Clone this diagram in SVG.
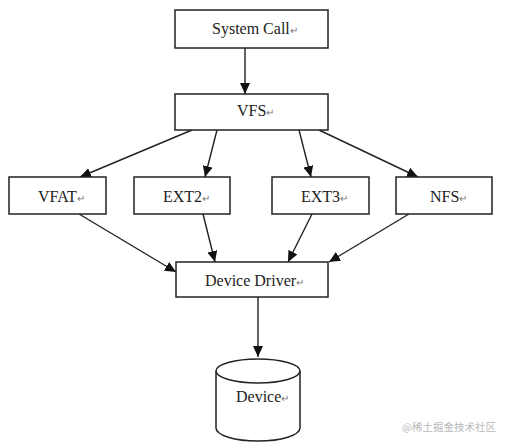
<svg xmlns="http://www.w3.org/2000/svg" width="510" height="445" viewBox="0 0 510 445">
<style>
.box{fill:#fff;stroke:#222;stroke-width:1.5}
.t{font-family:"Liberation Serif","Times New Roman",serif;font-size:16px;fill:#222}
.r{font-size:10px;fill:#777}
.c line{stroke:#222;stroke-width:1.4;marker-end:url(#a)}
.wm{font-family:"Noto Sans CJK SC",sans-serif;font-size:10.5px;fill:#b8b8b8}
</style>
<defs>
<marker id="a" markerUnits="userSpaceOnUse" markerWidth="12" markerHeight="10" refX="11" refY="5" orient="auto">
<path d="M0,0 L11,5 L0,10 Z" fill="#111"/>
</marker>
</defs>
<rect width="510" height="445" fill="#fff"/>
<g class="c" id="connectors">
<line x1="245" y1="48" x2="245" y2="94"/>
<line x1="192" y1="130" x2="80" y2="177"/>
<line x1="217" y1="130" x2="205" y2="177"/>
<line x1="299" y1="130" x2="311" y2="177"/>
<line x1="319" y1="130" x2="418" y2="177"/>
<line x1="79" y1="214" x2="176" y2="272"/>
<line x1="203" y1="214" x2="215" y2="262"/>
<line x1="312" y1="214" x2="288" y2="262"/>
<line x1="409" y1="214" x2="329" y2="262"/>
<line x1="258" y1="297" x2="258" y2="357"/>
</g>
<g id="syscall"><rect class="box" x="175" y="10" width="153" height="38"/><text class="t" x="212" y="34">System Call<tspan class="r">↵</tspan></text></g>
<g id="vfs"><rect class="box" x="175" y="94" width="153" height="36"/><text class="t" x="237" y="116">VFS<tspan class="r">↵</tspan></text></g>
<g id="vfat"><rect class="box" x="9" y="177" width="97" height="37"/><text class="t" x="38" y="202">VFAT<tspan class="r">↵</tspan></text></g>
<g id="ext2"><rect class="box" x="134" y="177" width="96" height="37"/><text class="t" x="163" y="202">EXT2<tspan class="r">↵</tspan></text></g>
<g id="ext3"><rect class="box" x="272" y="177" width="97" height="37"/><text class="t" x="301" y="202">EXT3<tspan class="r">↵</tspan></text></g>
<g id="nfs"><rect class="box" x="396" y="177" width="96" height="37"/><text class="t" x="430" y="202">NFS<tspan class="r">↵</tspan></text></g>
<g id="driver"><rect class="box" x="176" y="262" width="152" height="35"/><text class="t" x="205" y="286">Device Driver<tspan class="r">↵</tspan></text></g>
<g id="device">
<path class="box" d="M216,371 L216,428 A42,13 0 0 0 300,428 L300,371"/>
<ellipse class="box" cx="258" cy="371" rx="42" ry="12"/>
<text class="t" x="236" y="402">Device<tspan class="r">↵</tspan></text>
</g>
<text class="wm" x="402" y="431">@稀土掘金技术社区</text>
</svg>
